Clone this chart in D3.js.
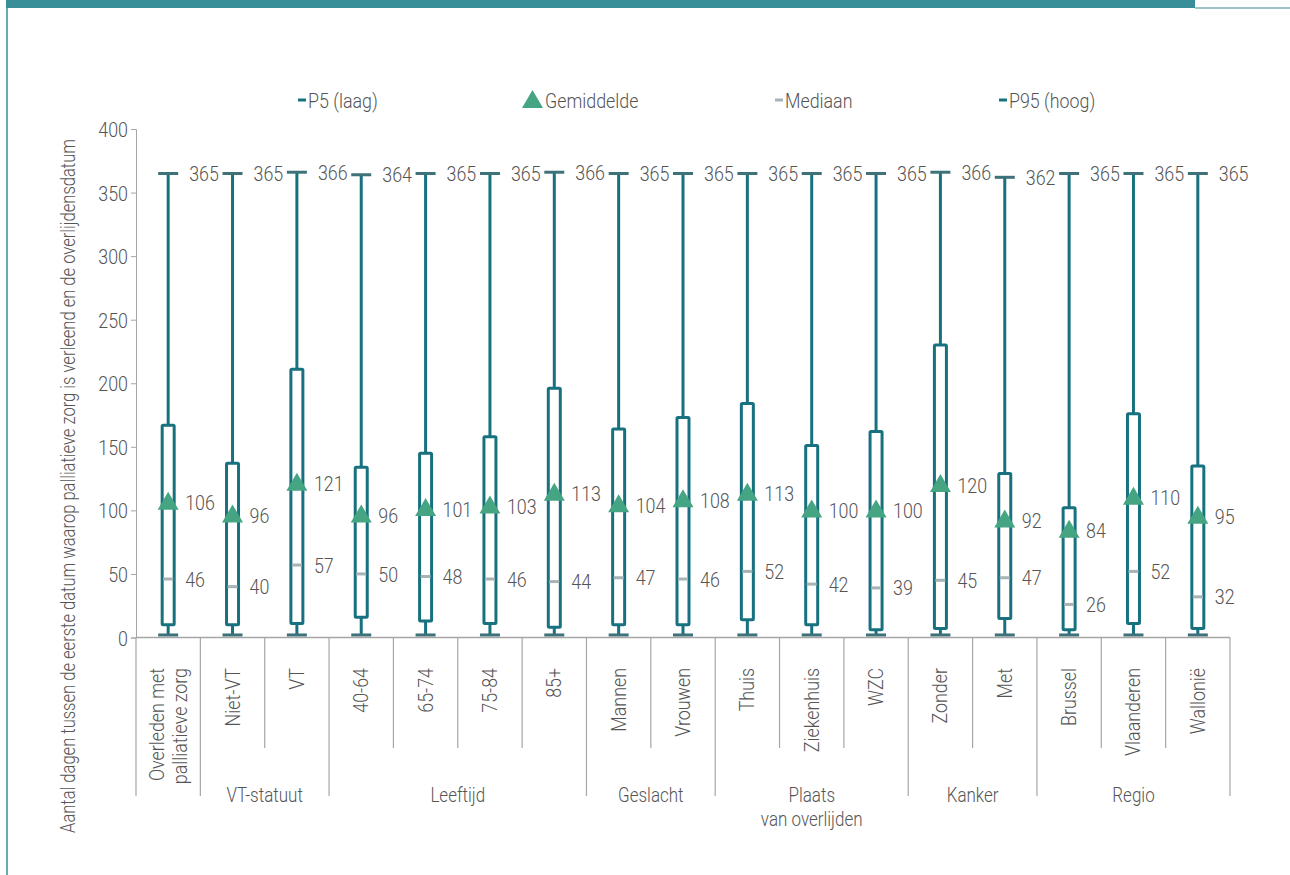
<!DOCTYPE html>
<html>
<head>
<meta charset="utf-8">
<script src="https://cdn.jsdelivr.net/npm/d3@7"></script>
<style>
  body { margin: 0; background: #fff; }
  svg text { font-family: Roboto, "DejaVu Sans Condensed", sans-serif; font-weight: 300; fill: #555; }
</style>
</head>
<body>
<svg id="chart" width="1290" height="875"></svg>
<script>
// categories and their group (first one has no group label)
const categories = ["Overleden met|palliatieve zorg", "Niet-VT", "VT", "40-64", "65-74", "75-84", "85+",
  "Mannen", "Vrouwen", "Thuis", "Ziekenhuis", "WZC", "Zonder", "Met", "Brussel", "Vlaanderen", "Wallonië"];
const groups = [
  { label: "", from: 0, to: 0 },
  { label: "VT-statuut", from: 1, to: 2 },
  { label: "Leeftijd", from: 3, to: 6 },
  { label: "Geslacht", from: 7, to: 8 },
  { label: "Plaats|van overlijden", from: 9, to: 11 },
  { label: "Kanker", from: 12, to: 13 },
  { label: "Regio", from: 14, to: 16 }
];

const p5     = [2, 2, 2, 2, 2, 2, 2, 2, 2, 2, 2, 2, 2, 2, 2, 2, 2];
const boxLow = [10, 10, 11, 16, 13, 11, 8, 10, 10, 14, 10, 6, 7, 15, 6, 11, 7];
const boxHigh= [167, 137, 211, 134, 145, 158, 196, 164, 173, 184, 151, 162, 230, 129, 102, 176, 135];
const mean   = [106, 96, 121, 96, 101, 103, 113, 104, 108, 113, 100, 100, 120, 92, 84, 110, 95];
const median = [46, 40, 57, 50, 48, 46, 44, 47, 46, 52, 42, 39, 45, 47, 26, 52, 32];
const p95    = [365, 365, 366, 364, 365, 365, 366, 365, 365, 365, 365, 365, 366, 362, 365, 365, 365];
const yTicks = [0, 50, 100, 150, 200, 250, 300, 350, 400];

const teal = "#17717f", capCol = "#3e7178", green = "#45a583", medCol = "#a7b3b7", axisCol = "#a6a6a6";
const SX = 0.85, FS = 21;   // condensed look: narrow the glyphs horizontally

const svg = d3.select("#chart");

// text helper, squeezes glyphs horizontally
function txt(parent, x, y, str, o) {
  o = o || {};
  return parent.append("text")
    .attr("transform", `translate(${x},${y})${o.rotate ? " rotate(-90)" : ""} scale(${SX},1)`)
    .attr("font-size", o.size || FS)
    .attr("text-anchor", o.anchor || "start")
    .attr("dy", o.dy || null)
    .text(str);
}

// header band + left rule
svg.append("rect").attr("x", 6).attr("y", 0).attr("width", 1189).attr("height", 8).attr("fill", "#388f9a");
svg.append("line").attr("x1", 1195).attr("x2", 1290).attr("y1", 8).attr("y2", 8)
  .attr("stroke", "#9cc6cc").attr("stroke-width", 2);
svg.append("line").attr("x1", 7).attr("x2", 7).attr("y1", 0).attr("y2", 875)
  .attr("stroke", "#388f9a").attr("stroke-width", 1.5);

const x = d3.scaleBand().domain(d3.range(categories.length)).range([136, 1230]);
const y = d3.scaleLinear().domain([0, 400]).range([637.5, 129]);

// y axis
const yAxis = svg.append("g").attr("transform", "translate(136,0)")
  .call(d3.axisLeft(y).tickValues(yTicks).tickSize(5).tickFormat(""));
yAxis.select(".domain").attr("stroke", axisCol);
yAxis.selectAll(".tick line").attr("stroke", axisCol);
yAxis.selectAll(".tick").each(function (d) {
  txt(d3.select(this), -8, 0, d, { anchor: "end", dy: "0.36em" });
});

txt(svg, 75, 486, "Aantal dagen tussen de eerste datum waarop palliatieve zorg is verleend en de overlijdensdatum",
  { rotate: true, anchor: "middle", size: 19.5 });

// x axis line and separators
svg.append("line").attr("x1", 136).attr("x2", 1230).attr("y1", y(0)).attr("y2", y(0))
  .attr("stroke", axisCol).attr("stroke-width", 1.5);
const groupEdges = new Set(groups.map(g => g.from).concat([categories.length]));
d3.range(categories.length + 1).forEach(i => {
  const xx = i < categories.length ? x(i) : x.range()[1];
  svg.append("line").attr("x1", xx).attr("x2", xx).attr("y1", y(0))
    .attr("y2", groupEdges.has(i) ? 796 : 748)
    .attr("stroke", axisCol).attr("stroke-width", 1.2);
});

// category labels
categories.forEach((c, i) => {
  const lines = c.split("|");
  const cx = x(i) + x.bandwidth() / 2;
  lines.forEach((ln, j) => {
    const lx = cx + (j - (lines.length - 1) / 2) * 23 + 7;
    txt(svg, lx, 668, ln, { rotate: true, anchor: "end" });
  });
});

// group labels
groups.forEach(g => {
  if (!g.label) return;
  const gx = (x(g.from) + x(g.to) + x.bandwidth()) / 2;
  g.label.split("|").forEach((ln, j) => {
    txt(svg, gx, 802 + j * 24, ln, { anchor: "middle", size: 20 });
  });
});

// boxes
const bx = svg.append("g");
categories.forEach((c, i) => {
  const cx = x(i) + x.bandwidth() / 2;
  bx.append("line").attr("x1", cx).attr("x2", cx).attr("y1", y(p5[i])).attr("y2", y(p95[i]))
    .attr("stroke", teal).attr("stroke-width", 3);
  bx.append("rect").attr("x", cx - 6).attr("y", y(boxHigh[i]))
    .attr("width", 12).attr("height", y(boxLow[i]) - y(boxHigh[i]))
    .attr("rx", 1).attr("fill", "#fff").attr("stroke", teal).attr("stroke-width", 3);
  // caps
  [p5[i], p95[i]].forEach(v => {
    bx.append("line").attr("x1", cx - 10).attr("x2", cx + 10).attr("y1", y(v)).attr("y2", y(v))
      .attr("stroke", capCol).attr("stroke-width", 3);
  });
  // median
  bx.append("line").attr("x1", cx - 5).attr("x2", cx + 5).attr("y1", y(median[i])).attr("y2", y(median[i]))
    .attr("stroke", medCol).attr("stroke-width", 3);
  // mean triangle
  const my = y(mean[i]);
  bx.append("path").attr("d", `M${cx - 10.5},${my + 7} L${cx + 10.5},${my + 7} L${cx},${my - 11} Z`)
    .attr("fill", green);
  // labels
  txt(bx, cx + 17, my, mean[i], { dy: "0.36em" });
  txt(bx, cx + 17, y(median[i]), median[i], { dy: "0.36em" });
  txt(bx, cx + 21, y(p95[i]), p95[i], { dy: "0.36em" });
});

// legend
const legend = [
  { label: "P5 (laag)", x: 298, type: "dash", color: teal },
  { label: "Gemiddelde", x: 522, type: "tri", color: green },
  { label: "Mediaan", x: 775, type: "dash", color: medCol },
  { label: "P95 (hoog)", x: 999, type: "dash", color: teal }
];
legend.forEach(l => {
  if (l.type === "dash") {
    svg.append("line").attr("x1", l.x).attr("x2", l.x + 8).attr("y1", 100).attr("y2", 100)
      .attr("stroke", l.color).attr("stroke-width", 3);
  } else {
    svg.append("path").attr("d", `M${l.x},${108} L${l.x + 21},${108} L${l.x + 10.5},${90} Z`).attr("fill", l.color);
  }
  txt(svg, l.x + (l.type === "dash" ? 10 : 23), 100, l.label, { dy: "0.36em" });
});
</script>
</body>
</html>
